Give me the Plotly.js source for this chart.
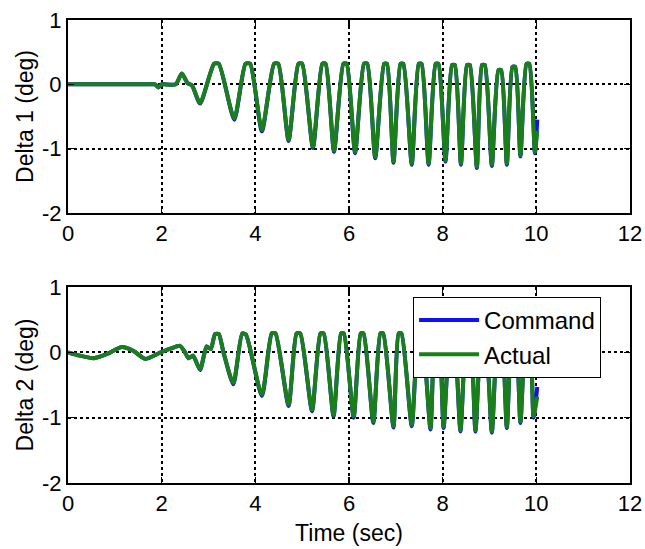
<!DOCTYPE html>
<html>
<head>
<meta charset="utf-8">
<script src="https://cdn.plot.ly/plotly-3.0.1.min.js"></script>
<style>html,body{margin:0;padding:0;background:#fff;}#chart{width:645px;height:549px;}</style>
</head>
<body>
<div id="chart"></div>
<script>
// ---- Data ----
var time1 = [0, 0.5, 1.0, 1.5, 1.8, 1.86, 1.93, 2.0, 2.06, 2.3, 2.43, 2.55, 2.65, 2.82, 3.12, 3.22, 3.55, 3.79, 3.89, 4.14, 4.40, 4.49, 4.71, 4.92, 5.00, 5.23, 5.43, 5.50, 5.68, 5.88, 5.95, 6.13, 6.32, 6.39, 6.56, 6.75, 6.81, 6.95, 7.10, 7.16, 7.34, 7.49, 7.55, 7.70, 7.85, 7.91, 8.06, 8.20, 8.26, 8.39, 8.52, 8.58, 8.73, 8.84, 8.90, 9.05, 9.19, 9.25, 9.37, 9.49, 9.55, 9.66, 9.79, 9.85, 9.97, 10.02];
var delta1Command = [0, 0, 0, 0, 0, 0, -0.05, 0, 0, 0, 0.17, 0.02, -0.02, -0.30, 0.32, 0.32, -0.55, 0.32, 0.32, -0.73, 0.32, 0.32, -0.88, 0.32, 0.32, -0.99, 0.32, 0.32, -1.05, 0.32, 0.32, -1.07, 0.32, 0.32, -1.15, 0.32, 0.32, -1.22, 0.32, 0.32, -1.25, 0.32, 0.32, -1.25, 0.32, 0.32, -1.20, 0.30, 0.30, -1.25, 0.30, 0.30, -1.30, 0.30, 0.30, -1.27, 0.22, 0.22, -1.25, 0.27, 0.27, -1.12, 0.32, 0.32, -1.07, -0.55];
var delta1Actual = [0, 0, 0, 0, 0, 0, -0.05, 0, 0, 0, 0.17, 0.02, -0.02, -0.29, 0.32, 0.32, -0.53, 0.32, 0.32, -0.71, 0.32, 0.32, -0.86, 0.32, 0.32, -0.97, 0.32, 0.32, -1.03, 0.32, 0.32, -1.05, 0.32, 0.32, -1.13, 0.32, 0.32, -1.20, 0.32, 0.32, -1.23, 0.32, 0.32, -1.23, 0.32, 0.32, -1.18, 0.30, 0.30, -1.23, 0.30, 0.30, -1.28, 0.30, 0.30, -1.25, 0.22, 0.22, -1.23, 0.27, 0.27, -1.10, 0.32, 0.32, -1.05, -0.72];

var time2 = [0, 0.25, 0.55, 0.85, 1.15, 1.4, 1.65, 1.98, 2.2, 2.39, 2.5, 2.57, 2.67, 2.82, 2.96, 3.05, 3.14, 3.22, 3.32, 3.53, 3.72, 3.80, 4.14, 4.35, 4.43, 4.71, 4.88, 4.96, 5.21, 5.39, 5.46, 5.67, 5.83, 5.89, 6.10, 6.25, 6.31, 6.52, 6.67, 6.73, 6.95, 7.06, 7.12, 7.34, 7.49, 7.55, 7.74, 7.85, 7.91, 8.02, 8.17, 8.23, 8.38, 8.52, 8.58, 8.70, 8.84, 8.90, 9.05, 9.19, 9.25, 9.37, 9.49, 9.55, 9.66, 9.79, 9.85, 9.94, 10.02];
var delta2Command = [0, -0.05, -0.09, -0.02, 0.08, 0.02, -0.10, 0, 0.06, 0.10, 0.0, -0.09, -0.05, -0.27, 0.09, 0.05, 0.28, 0.28, 0.0, -0.49, 0.29, 0.27, -0.67, 0.29, 0.29, -0.82, 0.29, 0.29, -0.90, 0.29, 0.29, -0.98, 0.29, 0.29, -1.00, 0.29, 0.29, -1.08, 0.29, 0.29, -1.15, 0.29, 0.29, -1.13, 0.29, 0.29, -1.18, 0.29, 0.29, -1.16, 0.29, 0.29, -1.21, 0.29, 0.29, -1.21, 0.29, 0.29, -1.23, 0.29, 0.29, -1.16, 0.29, 0.29, -1.08, 0.29, 0.29, -1.00, -0.53];
var delta2Actual = [0, -0.05, -0.09, -0.02, 0.08, 0.02, -0.10, 0, 0.06, 0.10, 0.0, -0.09, -0.05, -0.26, 0.09, 0.05, 0.28, 0.28, 0.0, -0.47, 0.29, 0.27, -0.65, 0.29, 0.29, -0.80, 0.29, 0.29, -0.88, 0.29, 0.29, -0.96, 0.29, 0.29, -0.98, 0.29, 0.29, -1.06, 0.29, 0.29, -1.13, 0.29, 0.29, -1.11, 0.29, 0.29, -1.16, 0.29, 0.29, -1.14, 0.29, 0.29, -1.19, 0.29, 0.29, -1.19, 0.29, 0.29, -1.21, 0.29, 0.29, -1.14, 0.29, 0.29, -1.06, 0.29, 0.29, -0.98, -0.68];

var xTickVals = [0, 2, 4, 6, 8, 10, 12];
var xTickText = ['0', '2', '4', '6', '8', '10', '12'];
var yTickVals = [-2, -1, 0, 1];
var yTickText = ['-2', '-1', '0', '1'];
var seriesNames = ['Command', 'Actual'];

// ---- Styling ----
var FONT = 'Liberation Sans, Arial, sans-serif';
var blue = '#1010f0';
var green = '#1a7f1a';
var LW = 4;

function line(x, y, name, color, xa, ya, show) {
  return {
    x: x, y: y, name: name, type: 'scatter', mode: 'lines',
    xaxis: xa, yaxis: ya, showlegend: show,
    line: {color: color, width: LW, shape: 'spline', smoothing: 0.6}
  };
}

var data = [
  line(time1, delta1Command, seriesNames[0], blue, 'x', 'y', false),
  line(time1, delta1Actual, seriesNames[1], green, 'x', 'y', false),
  line(time2, delta2Command, seriesNames[0], blue, 'x2', 'y2', true),
  line(time2, delta2Actual, seriesNames[1], green, 'x2', 'y2', true)
];

function xaxis(anchor, withTitle) {
  var a = {
    anchor: anchor, range: [0, 12], tickmode: 'array', tickvals: xTickVals, ticktext: xTickText,
    showline: true, mirror: 'allticks', linecolor: '#000', linewidth: 2,
    ticks: 'inside', ticklen: 6, tickwidth: 1.5, tickcolor: '#000',
    showgrid: true, gridcolor: '#000', gridwidth: 2, griddash: 'dot',
    zeroline: false, tickfont: {family: FONT, size: 22, color: '#000'}, automargin: false
  };
  if (withTitle) a.title = {text: 'Time (sec)', font: {family: FONT, size: 23, color: '#000'}, standoff: 9};
  return a;
}
function yaxis(anchor, domain, title) {
  return {
    anchor: anchor, domain: domain, range: [-2, 1], tickmode: 'array', tickvals: yTickVals, ticktext: yTickText,
    showline: true, mirror: 'allticks', linecolor: '#000', linewidth: 2,
    ticks: 'inside', ticklen: 6, tickwidth: 1.5, tickcolor: '#000',
    showgrid: true, gridcolor: '#000', gridwidth: 2, griddash: 'dot',
    zeroline: false, tickfont: {family: FONT, size: 22, color: '#000'}, automargin: false,
    title: {text: title, font: {family: FONT, size: 23, color: '#000'}, standoff: 2}
  };
}

var layout = {
  width: 645, height: 549,
  margin: {l: 68, r: 15, t: 20, b: 66},
  paper_bgcolor: '#fff', plot_bgcolor: '#fff',
  showlegend: true,
  xaxis: xaxis('y', false),
  yaxis: yaxis('x', [0.5832, 1], 'Delta 1 (deg)'),
  xaxis2: xaxis('y2', true),
  yaxis2: yaxis('x2', [0, 0.4233], 'Delta 2 (deg)'),
  legend: {
    x: 0.614, y: 0.4017, xanchor: 'left', yanchor: 'top',
    bgcolor: '#fff', bordercolor: '#000', borderwidth: 1,
    font: {family: FONT, size: 24, color: '#000'},
    tracegroupgap: 0, itemwidth: 60
  }
};

Plotly.newPlot('chart', data, layout, {staticPlot: true, displayModeBar: false});
</script>
</body>
</html>
